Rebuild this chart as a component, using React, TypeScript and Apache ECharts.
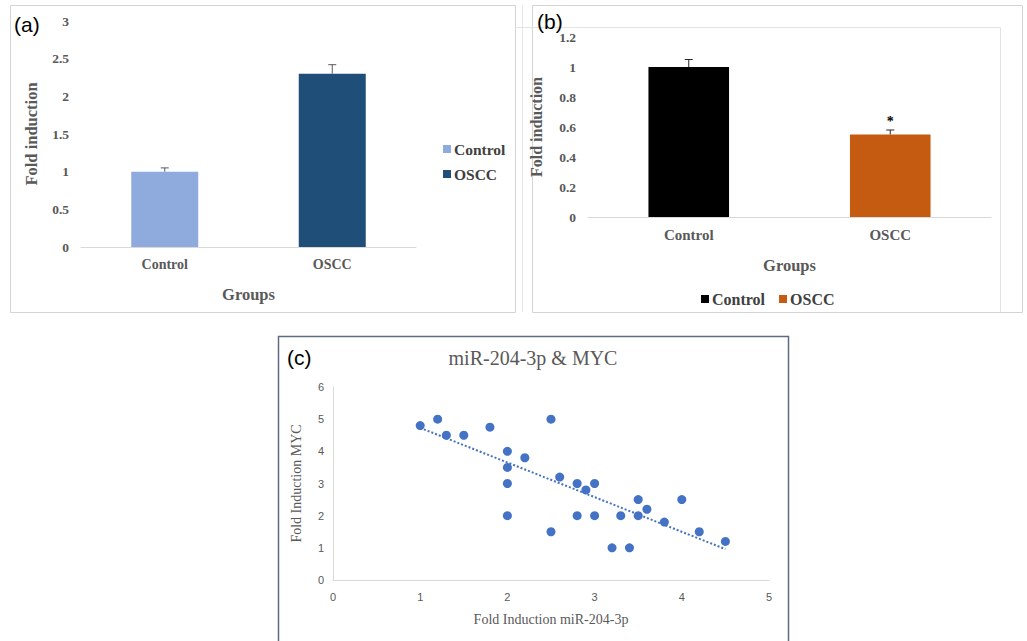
import React, { useEffect, useRef } from "react";
import * as echarts from "echarts";

// ---------- data ----------
const groups = ["Control", "OSCC"];

// panel (a)
const aValues = [1.0, 2.3];
const aErrors = [0.05, 0.12];
const aColors = ["#8FAADC", "#1F4E79"];

// panel (b)
const bValues = [1.0, 0.55];
const bErrors = [0.05, 0.03];
const bSignif = ["", "*"];
const bColors = ["#000000", "#C55A11"];

// panel (c)
const cX = [1, 1.2, 1.3, 1.5, 1.8, 2, 2, 2, 2, 2.2, 2.5, 2.5, 2.6, 2.8, 2.8, 2.9, 3, 3, 3.2, 3.3, 3.4, 3.5, 3.5, 3.6, 3.8, 4, 4.2, 4.5];
const cY = [4.8, 5, 4.5, 4.5, 4.75, 4, 3.5, 3, 2, 3.8, 5, 1.5, 3.2, 3, 2, 2.8, 3, 2, 1, 2, 1, 2.5, 2, 2.2, 1.8, 2.5, 1.5, 1.2];
const trendX = [1, 4.5];
const trendY = [4.73, 0.96];

const SERIF = "'Liberation Serif', 'Times New Roman', serif";
const SANS = "'Liberation Sans', Arial, sans-serif";
const GRAY = "#595959";

function errorBarSeries(xAxisIndex: number, yAxisIndex: number, values: number[], errors: number[], marks: string[] | null, color: string) {
  return {
    type: "custom",
    name: "err" + xAxisIndex,
    xAxisIndex,
    yAxisIndex,
    z: 10,
    silent: true,
    data: values.map((v, i) => [i, v, errors[i]]),
    renderItem: (params: any, api: any) => {
      const idx = api.value(0);
      const v = api.value(1);
      const e = api.value(2);
      const mark = marks ? marks[idx] : "";
      const p0 = api.coord([idx, v]);
      const p1 = api.coord([idx, v + e]);
      const cap = 4;
      const children: any[] = [
        { type: "line", shape: { x1: p0[0], y1: p0[1], x2: p1[0], y2: p1[1] }, style: { stroke: color, lineWidth: 1 } },
        { type: "line", shape: { x1: p1[0] - cap, y1: p1[1], x2: p1[0] + cap, y2: p1[1] }, style: { stroke: color, lineWidth: 1 } },
      ];
      if (mark) {
        children.push({
          type: "text",
          x: p1[0],
          y: p1[1] - 2,
          style: { text: mark, fontFamily: SERIF, fontWeight: "bold", fontSize: 14, fill: "#000", align: "center", verticalAlign: "bottom" },
        });
      }
      return { type: "group", children };
    },
  };
}

export default function App() {
  const ref = useRef<HTMLDivElement>(null);

  useEffect(() => {
    if (!ref.current) return;
    const chart = echarts.init(ref.current, null, { renderer: "svg" });

    const valAxisLabel = { fontFamily: SERIF, fontWeight: "bold", fontSize: 13.5, color: GRAY, margin: 12 };

    const option: any = {
      animation: false,
      backgroundColor: "#ffffff",
      grid: [
        { left: 81, top: 21, width: 335, height: 226 },
        { left: 588, top: 37, width: 403, height: 180 },
        { left: 333, top: 387, width: 436, height: 193 },
      ],
      xAxis: [
        {
          type: "category", gridIndex: 0, data: groups,
          axisLine: { lineStyle: { color: "#d9d9d9" } }, axisTick: { show: false },
          axisLabel: { fontFamily: SERIF, fontWeight: "bold", fontSize: 14, color: GRAY, margin: 10 },
          name: "Groups", nameLocation: "middle", nameGap: 39,
          nameTextStyle: { fontFamily: SERIF, fontWeight: "bold", fontSize: 16.5, color: GRAY },
        },
        {
          type: "category", gridIndex: 1, data: groups,
          axisLine: { lineStyle: { color: "#d9d9d9" } }, axisTick: { show: false },
          axisLabel: { fontFamily: SERIF, fontWeight: "bold", fontSize: 15, color: GRAY, margin: 10 },
          name: "Groups", nameLocation: "middle", nameGap: 40,
          nameTextStyle: { fontFamily: SERIF, fontWeight: "bold", fontSize: 16.5, color: GRAY },
        },
        {
          type: "value", gridIndex: 2, min: 0, max: 5, interval: 1,
          axisLine: { show: true, lineStyle: { color: "#d9d9d9" } }, axisTick: { show: false },
          splitLine: { show: false },
          axisLabel: { fontFamily: SANS, fontSize: 11, color: GRAY, margin: 11 },
          name: "Fold Induction miR-204-3p", nameLocation: "middle", nameGap: 32,
          nameTextStyle: { fontFamily: SERIF, fontSize: 14, color: GRAY },
        },
      ],
      yAxis: [
        {
          type: "value", gridIndex: 0, min: 0, max: 3, interval: 0.5,
          axisLine: { show: false }, axisTick: { show: false }, splitLine: { show: false },
          axisLabel: valAxisLabel,
          name: "Fold induction", nameLocation: "middle", nameGap: 41,
          nameTextStyle: { fontFamily: SERIF, fontWeight: "bold", fontSize: 16.5, color: GRAY },
        },
        {
          type: "value", gridIndex: 1, min: 0, max: 1.2, interval: 0.2,
          axisLine: { show: false }, axisTick: { show: false }, splitLine: { show: false },
          axisLabel: { ...valAxisLabel, margin: 12 },
          name: "Fold induction", nameLocation: "middle", nameGap: 44,
          nameTextStyle: { fontFamily: SERIF, fontWeight: "bold", fontSize: 16, color: GRAY },
        },
        {
          type: "value", gridIndex: 2, min: 0, max: 6, interval: 1,
          axisLine: { show: true, lineStyle: { color: "#d9d9d9" } }, axisTick: { show: false },
          splitLine: { show: false },
          axisLabel: { fontFamily: SANS, fontSize: 11, color: GRAY, margin: 9 },
          name: "Fold Induction MYC", nameLocation: "middle", nameGap: 30,
          nameTextStyle: { fontFamily: SERIF, fontSize: 14, color: GRAY },
        },
      ],
      legend: [
        {
          orient: "vertical", left: 438, top: 136, itemWidth: 8, itemHeight: 8, itemGap: 9, icon: "rect",
          data: groups.map((g, i) => ({ name: g, itemStyle: { color: aColors[i] } })),
          textStyle: { fontFamily: SERIF, fontWeight: "bold", fontSize: 15.5, color: "#404040", padding: [0, 0, 0, -2] },
          selectedMode: false,
        },
        {
          orient: "horizontal", left: 696, top: 286, itemWidth: 8, itemHeight: 8, itemGap: 14, icon: "rect",
          data: groups.map((g, i) => ({ name: g, itemStyle: { color: bColors[i] } })),
          textStyle: { fontFamily: SERIF, fontWeight: "bold", fontSize: 16, color: "#404040", padding: [0, 0, 0, -2] },
          selectedMode: false,
        },
      ],
      series: [
        // panel (a)
        ...groups.map((g, i) => ({
          type: "bar", name: g, xAxisIndex: 0, yAxisIndex: 0,
          barWidth: "40%", barGap: "-100%",
          itemStyle: { color: aColors[i] },
          data: aValues.map((v, j) => (j === i ? v : "-")),
        })),
        errorBarSeries(0, 0, aValues, aErrors, null, "#595959"),
        // panel (b)
        ...groups.map((g, i) => ({
          type: "bar", name: g, xAxisIndex: 1, yAxisIndex: 1,
          barWidth: "40%", barGap: "-100%",
          itemStyle: { color: bColors[i] },
          data: bValues.map((v, j) => (j === i ? v : "-")),
        })),
        errorBarSeries(1, 1, bValues, bErrors, bSignif, "#262626"),
        // panel (c)
        {
          type: "scatter", name: "points", xAxisIndex: 2, yAxisIndex: 2,
          symbolSize: 9, itemStyle: { color: "#4472C4", opacity: 1 },
          data: cX.map((x, i) => [x, cY[i]]),
        },
        {
          type: "line", name: "trend", xAxisIndex: 2, yAxisIndex: 2,
          showSymbol: false, symbol: "none",
          lineStyle: { color: "#4472C4", width: 2, type: [2, 2] },
          data: trendX.map((x, i) => [x, trendY[i]]),
        },
      ],
      graphic: [
        // panel frames
        { type: "rect", shape: { x: 10.5, y: 5.5, width: 505, height: 307 }, style: { fill: "none", stroke: "#d4d4d4", lineWidth: 1 }, silent: true },
        { type: "line", shape: { x1: 522.5, y1: 5, x2: 522.5, y2: 312 }, style: { stroke: "#e6e6e6", lineWidth: 1 }, silent: true },
        { type: "rect", shape: { x: 532.5, y: 5.5, width: 490, height: 307 }, style: { fill: "none", stroke: "#d4d4d4", lineWidth: 1 }, silent: true },
        { type: "polyline", shape: { points: [[515, 27.5], [1000.5, 27.5], [1000.5, 312]] }, style: { fill: "none", stroke: "#e3e3e3", lineWidth: 1 }, silent: true },
        { type: "rect", shape: { x: 278.5, y: 336.5, width: 510, height: 320 }, style: { fill: "none", stroke: "#5e6d84", lineWidth: 1.5 }, silent: true },
        // panel labels
        { type: "text", x: 14, y: 24, style: { text: "(a)", fontFamily: SANS, fontSize: 21, fill: "#000", verticalAlign: "middle" } },
        { type: "text", x: 537, y: 21, style: { text: "(b)", fontFamily: SANS, fontSize: 21, fill: "#000", verticalAlign: "middle" } },
        { type: "text", x: 287, y: 357, style: { text: "(c)", fontFamily: SANS, fontSize: 21, fill: "#000", verticalAlign: "middle" } },
        // panel (c) title
        { type: "text", x: 533, y: 358, style: { text: "miR-204-3p & MYC", fontFamily: SERIF, fontSize: 20, fill: GRAY, align: "center", verticalAlign: "middle" } },
      ],
    };

    chart.setOption(option);
    return () => chart.dispose();
  }, []);

  return <div ref={ref} style={{ position: "fixed", left: 0, top: 0, width: 1027, height: 641, background: "#fff" }} />;
}
